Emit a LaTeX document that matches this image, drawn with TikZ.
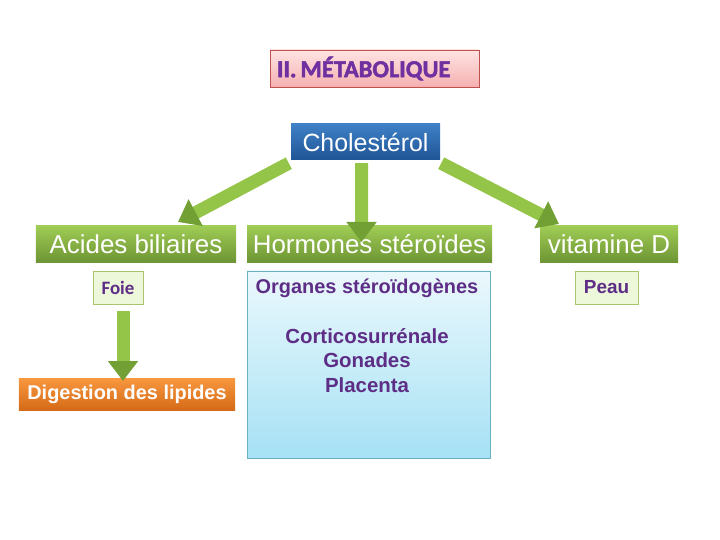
\documentclass[tikz,border=0pt]{standalone}
\usepackage{fontspec}
\setmainfont{Liberation Sans}
\newfontfamily\calib[BoldFeatures={FakeBold=2}]{Carlito}
\newfontfamily\calibplain{Carlito}
\usepackage{xcolor}
\usepackage{tikz}
\usetikzlibrary{arrows.meta,positioning}
\definecolor{leaftop}{HTML}{9FCC55}
\definecolor{leafbot}{HTML}{6E9534}
\definecolor{skytop}{HTML}{3F80C6}
\definecolor{skybot}{HTML}{1F5596}
\definecolor{flametop}{HTML}{F8983F}
\definecolor{flamebot}{HTML}{D56A17}
\definecolor{plum}{HTML}{5E2E86}
\definecolor{violet}{HTML}{7030A0}
\definecolor{blushtop}{HTML}{FFE3E3}
\definecolor{blushbot}{HTML}{F5B0B0}
\definecolor{brick}{HTML}{C0504D}
\definecolor{mint}{HTML}{EDF7DA}
\definecolor{sage}{HTML}{A9C46C}
\definecolor{icetop}{HTML}{EBF8FC}
\definecolor{icebot}{HTML}{A6E1F5}
\definecolor{lagoon}{HTML}{6AAFC2}
\definecolor{shaft}{HTML}{95C548}
\definecolor{shafthead}{HTML}{72A035}

\begin{document}
\begin{tikzpicture}[
  x=1bp, y=-1bp,
  header/.style={inner sep=0pt, minimum height=36bp, top color=leaftop, bottom color=leafbot,
    text=white, font=\fontsize{26}{30}\selectfont},
  organ/.style={draw=sage, fill=mint, inner sep=0pt, minimum height=33bp, text=plum},
  bigarrow/.style={draw=shaft, line width=13bp,
    -{Triangle[width=29bp, length=20bp, color=shafthead]}}
]
\useasboundingbox (0,0) rectangle (720,540);

\node[draw=brick, top color=blushtop, bottom color=blushbot, inner ysep=0pt, inner xsep=7bp,
  text width=195bp, align=left, minimum height=37bp, text=violet,
  font=\calib\bfseries\fontsize{24.5}{27}\selectfont,
  execute at begin node={\spaceskip=4bp\relax}]
  (title) at (374.5,68.5) {II. MÉTABOLIQUE};
\node[inner sep=0pt, minimum width=149bp, minimum height=36bp, top color=skytop, bottom color=skybot,
  text=white, font=\fontsize{25}{29}\selectfont] (chol) at (365.5,142) {Cholestérol};

\node[header, minimum width=200bp] (acides) at (136,244) {Acides biliaires};
\node[header, minimum width=245bp] (horm) at (369.5,244) {Hormones stéroïdes};
\node[header, minimum width=138bp] (vitd) at (609,244) {vitamine D};

\node[organ, minimum width=50bp, font=\calibplain\bfseries\fontsize{19}{22}\selectfont] (foie) at (118,287.5) {Foie};
\node[organ, minimum width=63bp, font=\bfseries\fontsize{19}{22}\selectfont] (peau) at (606.5,287.5) {Peau};

\node[draw=lagoon, top color=icetop, bottom color=icebot, minimum width=243bp, minimum height=187bp,
  inner sep=0pt] (organes) at (368.5,364.5) {};
\node[text=plum, font=\bfseries\fontsize{20}{24}\selectfont] (orgtitle) at (367,288) {Organes stéroïdogènes};
\node[text=plum, font=\bfseries\fontsize{20.5}{24.5}\selectfont, align=center, below=24bp of orgtitle]
  (glandes) {Corticosurrénale\\Gonades\\Placenta};

\node[inner sep=0pt, minimum width=216bp, minimum height=32bp, top color=flametop, bottom color=flamebot,
  text=white, font=\bfseries\fontsize{20}{24}\selectfont] (digest) at (127,394) {Digestion des lipides};

% arrows
\coordinate (acidestip) at (178,222);
\coordinate (hormtip) at (361.5,242);
\coordinate (vittip) at (559,224);
\coordinate (digesttip) at (123,381);
\draw[bigarrow] ([xshift=-2bp,yshift=-3bp]chol.south west) -- (acidestip);
\draw[bigarrow] ([xshift=-4bp,yshift=-3bp]chol.south) -- (hormtip);
\draw[bigarrow] ([xshift=1bp,yshift=-3bp]chol.south east) -- (vittip);
\draw[bigarrow] (foie.south -| digesttip) ++(0,-7bp) -- (digesttip);
\end{tikzpicture}
\end{document}
